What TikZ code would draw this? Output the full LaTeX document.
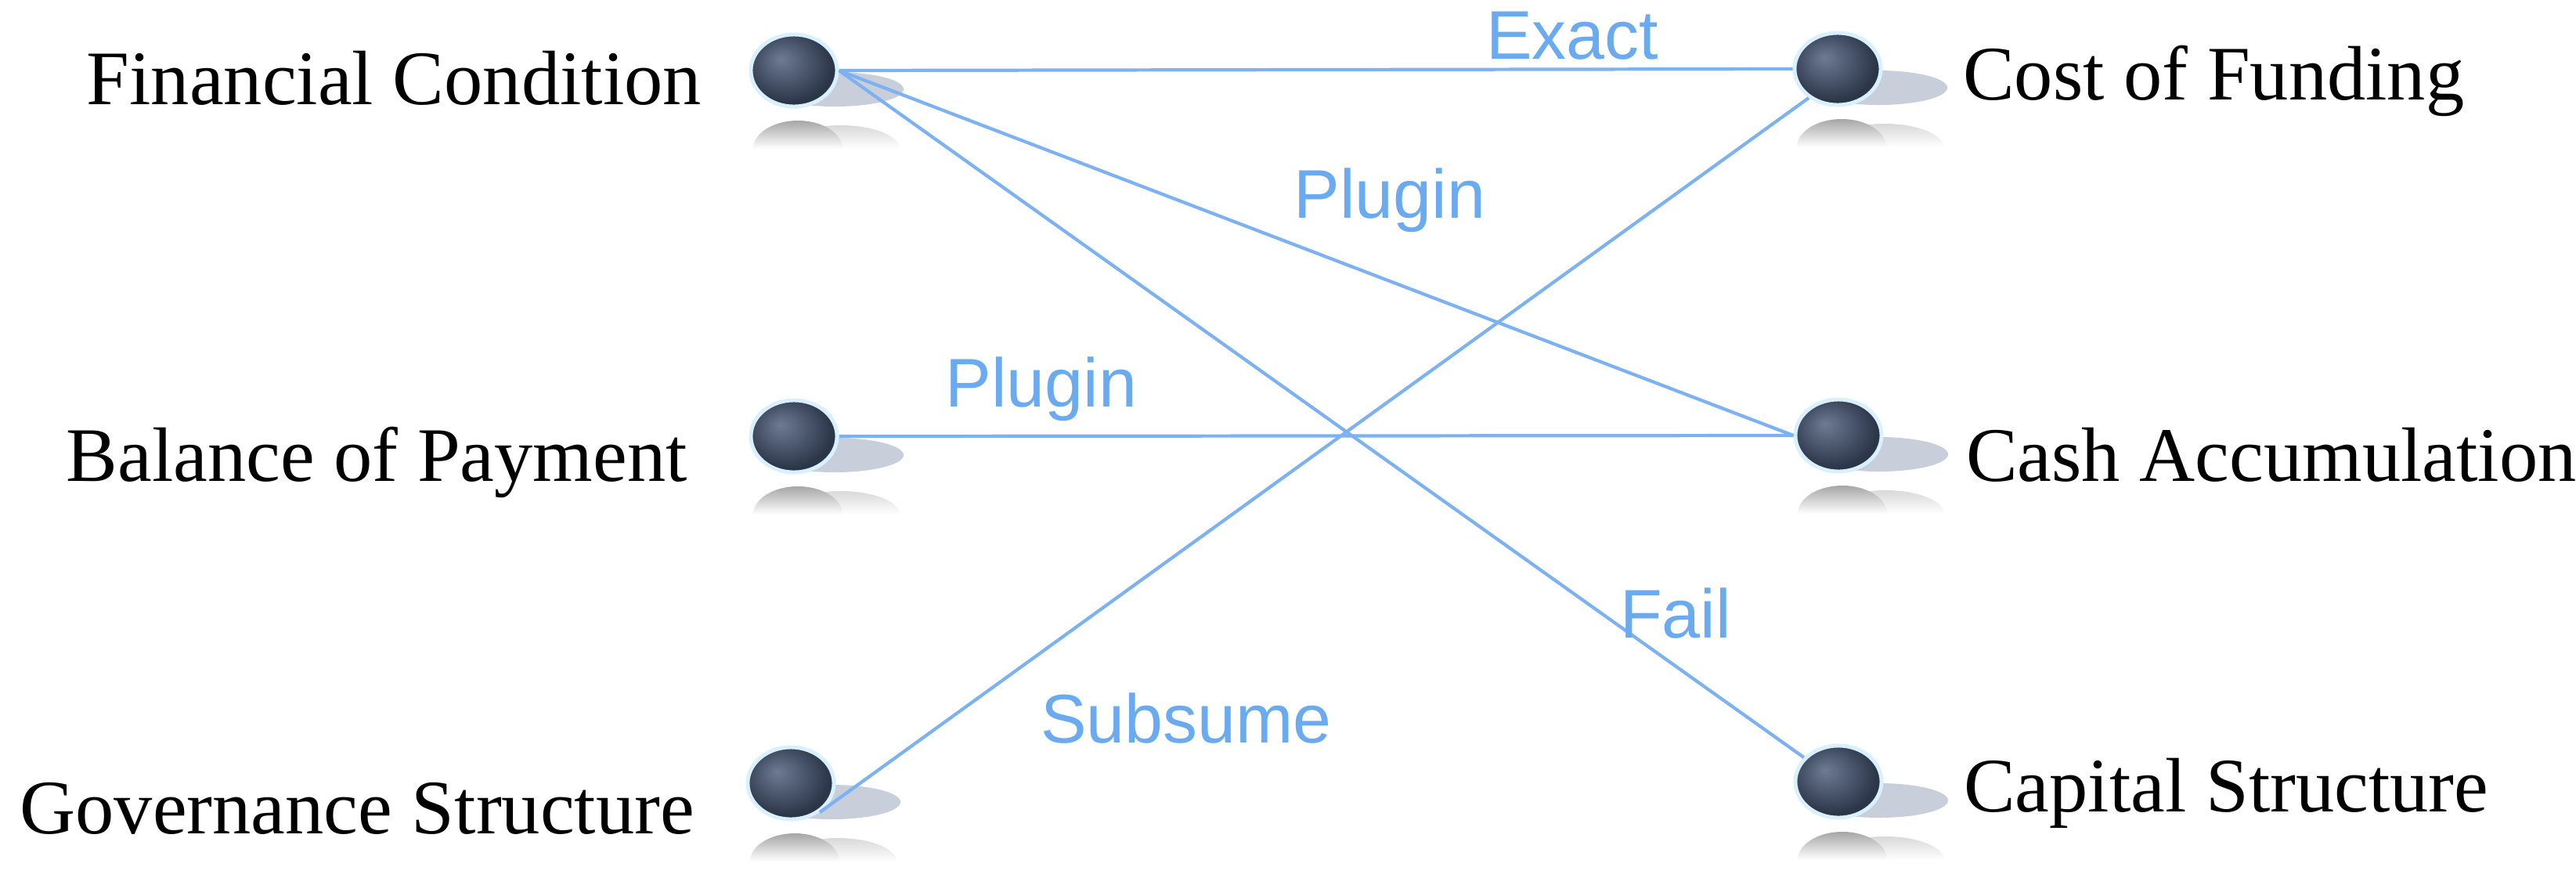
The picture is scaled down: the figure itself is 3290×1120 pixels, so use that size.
\documentclass[tikz,border=0pt]{standalone}
\usepackage{fontspec}
\setmainfont{Liberation Serif}
\newfontfamily\tagfont{Liberation Sans}
\usepackage{tikz}
\usetikzlibrary{positioning,shapes.geometric}

\definecolor{linkblue}{HTML}{7DB2F2}
\definecolor{tagblue}{HTML}{6AAAF0}
\definecolor{balldark}{HTML}{2C3649}
\definecolor{ballmid}{HTML}{4A566C}
\definecolor{balllight}{HTML}{6E7B93}
\definecolor{glow}{HTML}{D8F0FF}
\definecolor{shadowgrey}{HTML}{C8CEDA}

\pgfdeclareradialshading{ballshade}{\pgfpoint{-8bp}{8bp}}{%
  color(0bp)=(balllight); color(14bp)=(ballmid); color(26bp)=(balldark); color(50bp)=(balldark)}

\tikzset{
  ball/.style={ellipse, minimum width=1.1cm, minimum height=0.92cm, inner sep=0pt,
    draw=glow, line width=1.4pt, shading=ballshade},
  term/.style={font=\fontsize{28}{32}\selectfont, inner sep=0pt, text height=19.6pt, text depth=7pt},
  link/.style={draw=linkblue, line width=1.2pt},
  tag/.style={font=\tagfont\fontsize{25}{28}\selectfont, text=tagblue, inner sep=0pt},
}

\begin{document}
\begin{tikzpicture}[x=0.01cm,y=-0.01cm]

  \useasboundingbox (0,0) rectangle (3290,1120);

  % balls with their shadows
  \foreach \n/\x/\y in {fc/1014/90, bp/1014/557, gs/1010/1000, cf/2347/88, ca/2348/556, cs/2348/998} {
    \fill[shadowgrey] (\x+52,\y+24) ellipse [x radius=0.88cm, y radius=0.22cm];
    \shade[top color=gray!30, bottom color=white] (\x-15,\y+100) arc[start angle=180, end angle=0, x radius=0.75cm, y radius=0.3cm] -- cycle;
    \shade[top color=gray!70, bottom color=white] (\x-52,\y+100) arc[start angle=180, end angle=0, x radius=0.57cm, y radius=0.36cm] -- cycle;
    \node[ball] (\n) at (\x,\y) {};
  }

  \node[term] (fct) [left=0.6cm of fc, yshift=-0.21cm] {Financial Condition};
  \node[term] (bpt) [left=0.78cm of bp, yshift=-0.35cm] {Balance of Payment};
  \node[term] (gst) [left=0.65cm of gs, yshift=-0.42cm] {Governance Structure};
  \node[term] (cft) [right=1.02cm of cf, yshift=-0.17cm] {Cost of Funding};
  \node[term] (cat) [right=1.05cm of ca, yshift=-0.36cm] {Cash Accumulation};
  \node[term] (cst) [right=1.02cm of cs, yshift=-0.16cm] {Capital Structure};

  \draw[link] (fc.east) -- (cf.west);
  \draw[link] (fc.east) -- (ca.west);
  \draw[link] (fc.east) -- (cs.145);
  \draw[link] (bp.east) -- (ca.west);
  \draw[link] (gs.-45) -- (cf.-135);

  \node[tag] (exact) at (2008,46) {Exact};
  \node[tag] (plug1) at (1775,256) {Plugin};
  \node[tag] (plug2) at (1330,497) {Plugin};
  \node[tag] (fail) at (2140,783) {Fail};
  \node[tag] (subs) at (1515,917) {Subsume};

\end{tikzpicture}
\end{document}
